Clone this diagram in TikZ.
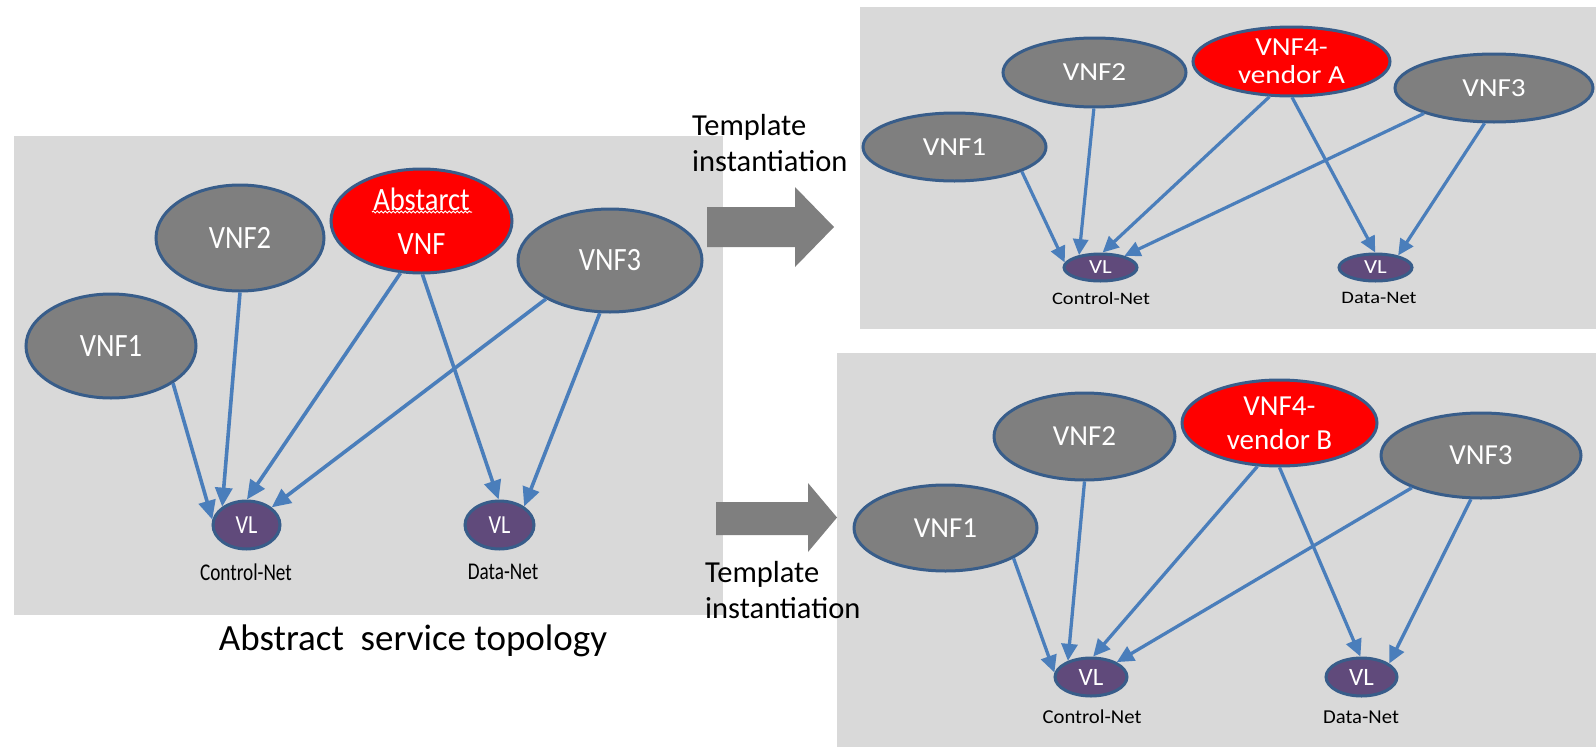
\documentclass[tikz,border=0pt]{standalone}
\usepackage{fontspec}
\setmainfont{Carlito}
\usepackage{graphicx}
\usetikzlibrary{shapes.geometric,arrows.meta,decorations.pathmorphing}
\definecolor{panelgray}{HTML}{D9D9D9}
\definecolor{vnfgray}{HTML}{7F7F7F}
\definecolor{vnfred}{HTML}{FF0000}
\definecolor{nodeborder}{HTML}{385D8A}
\definecolor{vlpurple}{HTML}{604A7B}
\definecolor{linkblue}{HTML}{4A7EBB}
\definecolor{arrowgray}{HTML}{7F7F7F}
\newcommand{\hs}[2]{\scalebox{#1}[1]{#2}}
\begin{document}
\begin{tikzpicture}[x=1pt,y=-1pt,
  panel/.style={fill=panelgray},
  vnf/.style={ellipse, draw=nodeborder, line width=3pt, fill=vnfgray, text=white, inner sep=0pt},
  redvnf/.style={vnf, fill=vnfred, align=center},
  vl/.style={ellipse, draw=nodeborder, line width=3pt, fill=vlpurple, text=white, inner sep=0pt},
  lfont/.style={font=\fontsize{32.5}{44}\selectfont},
  tfont/.style={font=\fontsize{26}{28}\selectfont},
  bfont/.style={font=\fontsize{29}{34}\selectfont},
  netlbl/.style={inner sep=0pt, text=black},
  linkL/.style={draw=linkblue, line width=3.6pt, -{Triangle[length=19pt,width=17pt]}},
  linkT/.style={draw=linkblue, line width=3.2pt, -{Triangle[length=16pt,width=15pt]}},
  linkB/.style={draw=linkblue, line width=3.3pt, -{Triangle[length=17pt,width=16pt]}},
  ttext/.style={font=\fontsize{30.5}{36}\selectfont, align=left, anchor=west, inner sep=0pt},
  blockarrow/.style={fill=arrowgray}
]
\useasboundingbox (0,0) rectangle (1596,747);

% panels
\fill[panel] (14,136) rectangle (723,615);
\fill[panel] (860,7) rectangle (1596,329);
\fill[panel] (837,353) rectangle (1596,747);

% block arrows
\fill[blockarrow] (707,207) -- (795,207) -- (795,187) -- (834,227) -- (795,267) -- (795,247) -- (707,247) -- cycle;
\fill[blockarrow] (716,502) -- (808,502) -- (808,483) -- (837,517.5) -- (808,552) -- (808,535) -- (716,535) -- cycle;

% captions
\node[ttext] (tmplA) at (692,143) {Template\\instantiation};
\node[ttext] (tmplB) at (705,590) {Template\\instantiation};
\node[font=\fontsize{37}{44}\selectfont, anchor=base, inner sep=0pt] (title) at (413,650) {Abstract\ \ service topology};

% ---------- left panel ----------
\node[vnf, lfont, minimum width=170, minimum height=104] (L1) at (111,346) {\hs{0.88}{VNF1}};
\node[vnf, lfont, minimum width=168, minimum height=106] (L2) at (240,238) {\hs{0.88}{VNF2}};
\node[redvnf, lfont, minimum width=181, minimum height=104] (LA) at (421.5,221) {\hs{0.88}{Abstarct}\\\hs{0.88}{VNF}};
\node[vnf, lfont, minimum width=184, minimum height=103] (L3) at (610,260.5) {\hs{0.88}{VNF3}};
\node[vl, font=\fontsize{26}{30}\selectfont, minimum width=67, minimum height=48] (LC) at (246.5,525) {\hs{0.85}{VL}};
\node[vl, font=\fontsize{26}{30}\selectfont, minimum width=69, minimum height=48] (LD) at (499.5,525) {\hs{0.85}{VL}};
\node[netlbl, font=\fontsize{24}{28}\selectfont] (LCt) at (246,572) {\hs{0.8}{Control-Net}};
\node[netlbl, font=\fontsize{24}{28}\selectfont] (LDt) at (503,572) {\hs{0.8}{Data-Net}};
\draw[white, line width=1pt, decorate, decoration={snake, amplitude=0.9pt, segment length=4pt}] (372,212) -- (472,212);

\draw[linkL] (L1.-31.7) -- (LC.171.5);
\draw[linkL] (L2.-90) -- (LC.143.7);
\draw[linkL] (LA.-112.8) -- (LC.89);
\draw[linkL] (LA.-89.5) -- (LD.92.5);
\draw[linkL] (L3.-149.5) -- (LC.35.2);
\draw[linkL] (L3.-101.4) -- (LD.37.5);

% ---------- top right panel ----------
\node[vnf, tfont, minimum width=183, minimum height=68] (T1) at (954.5,147) {\hs{1.12}{VNF1}};
\node[vnf, tfont, minimum width=183, minimum height=69] (T2) at (1094.5,72.5) {\hs{1.12}{VNF2}};
\node[redvnf, tfont, minimum width=197, minimum height=69] (T4) at (1291.5,61.5) {\hs{1.12}{VNF4-}\\\hs{1.12}{vendor A}};
\node[vnf, tfont, minimum width=198, minimum height=68] (T3) at (1494,88) {\hs{1.12}{VNF3}};
\node[vl, font=\fontsize{20}{24}\selectfont, minimum width=73, minimum height=27] (TC) at (1100.5,267.5) {\hs{1.15}{VL}};
\node[vl, font=\fontsize{20}{24}\selectfont, minimum width=73, minimum height=27] (TD) at (1375.5,267.5) {\hs{1.15}{VL}};
\node[netlbl, font=\fontsize{17.5}{20}\selectfont] (TCt) at (1101,298) {\hs{1.17}{Control-Net}};
\node[netlbl, font=\fontsize{17.5}{20}\selectfont] (TDt) at (1379,298) {\hs{1.17}{Data-Net}};

\draw[linkT] (T1.-20.9) -- (TC.172.8);
\draw[linkT] (T2.-91) -- (TC.150.4);
\draw[linkT] (T4.-122.8) -- (TC.82.3);
\draw[linkT] (T4.-89.7) -- (TD.91.6);
\draw[linkT] (T3.-160.3) -- (TC.26.2);
\draw[linkT] (T3.-105.5) -- (TD.28.7);

% ---------- bottom right panel ----------
\node[vnf, bfont, minimum width=183, minimum height=86] (B1) at (945.5,528) {VNF1};
\node[vnf, bfont, minimum width=181, minimum height=87] (B2) at (1084.5,436.5) {VNF2};
\node[redvnf, bfont, minimum width=195, minimum height=86] (B4) at (1279.5,423) {VNF4-\\vendor B};
\node[vnf, bfont, minimum width=200, minimum height=85] (B3) at (1481,455.5) {VNF3};
\node[vl, font=\fontsize{25}{28}\selectfont, minimum width=72, minimum height=38] (BC) at (1091,677) {VL};
\node[vl, font=\fontsize{25}{28}\selectfont, minimum width=71, minimum height=38] (BD) at (1361.5,677) {VL};
\node[netlbl, font=\fontsize{19.7}{23}\selectfont] (BCt) at (1092,717) {\hs{1.05}{Control-Net}};
\node[netlbl, font=\fontsize{19.7}{23}\selectfont] (BDt) at (1361,717) {\hs{1.05}{Data-Net}};

\draw[linkB] (B1.-24.8) -- (BC.173.3);
\draw[linkB] (B2.-90) -- (BC.145.8);
\draw[linkB] (B4.-117.5) -- (BC.84.8);
\draw[linkB] (B4.-90) -- (BD.93.9);
\draw[linkB] (B3.-155.7) -- (BC.30.4);
\draw[linkB] (B3.-103.6) -- (BD.26.2);
\end{tikzpicture}
\end{document}
